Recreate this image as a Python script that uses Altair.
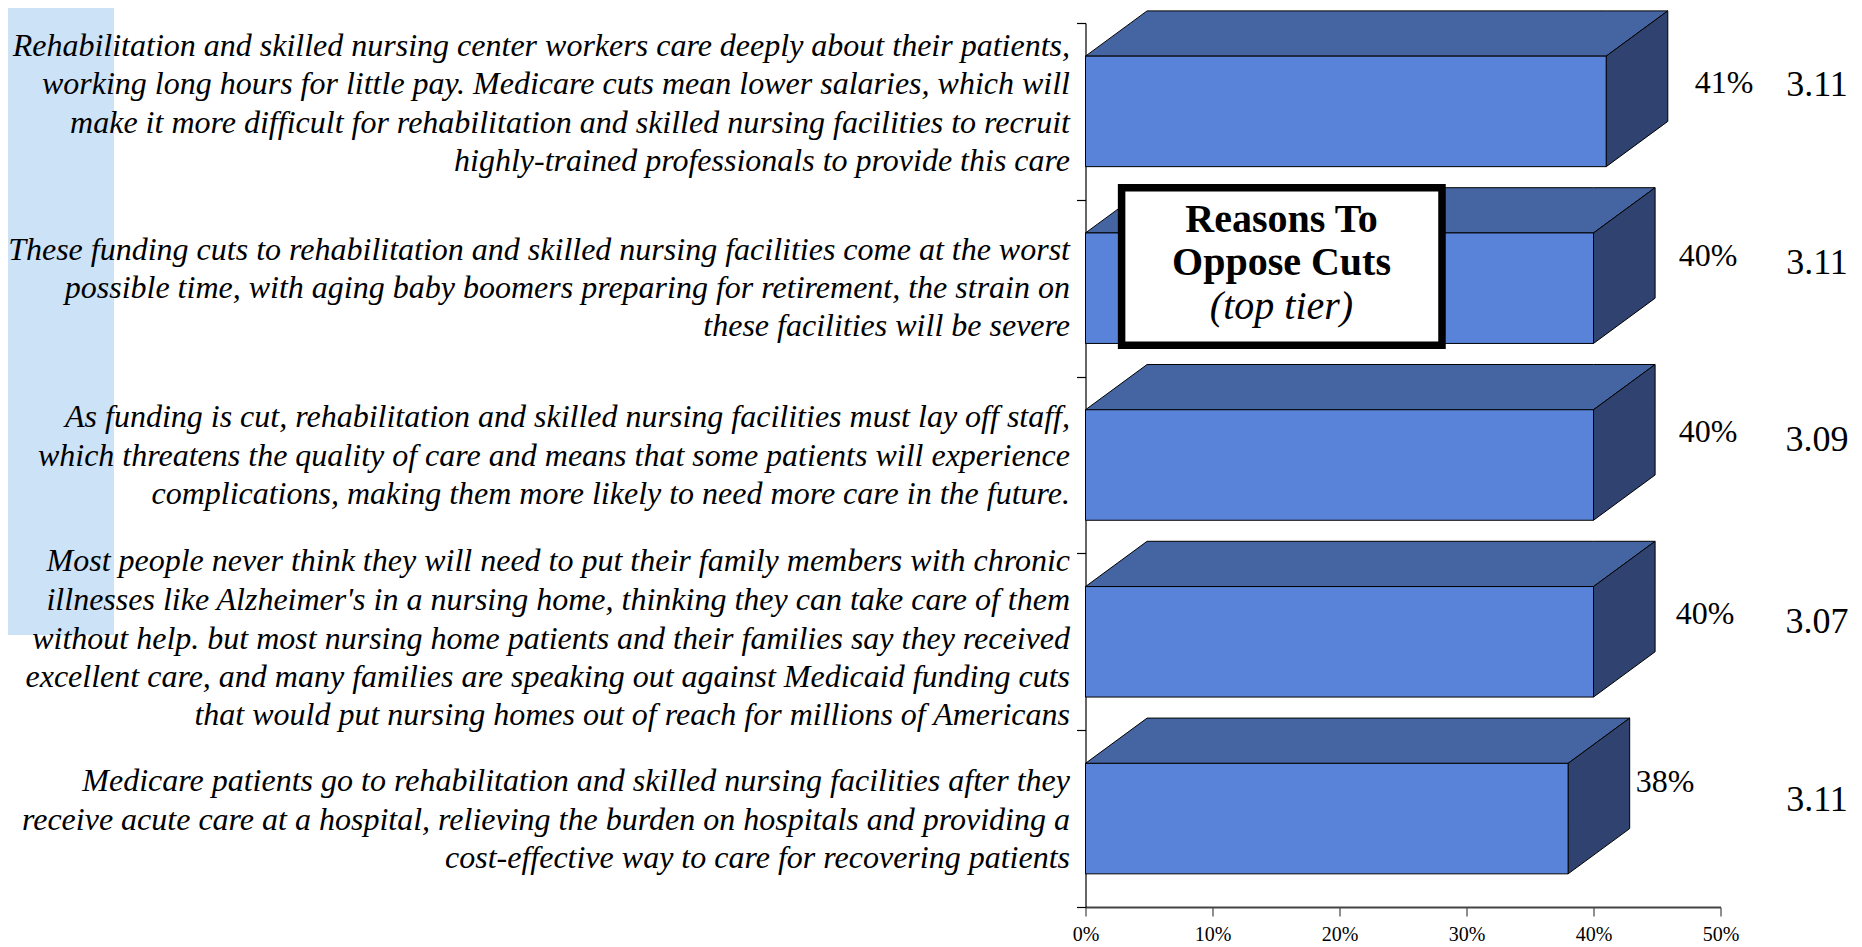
import altair as alt
import pandas as pd

values = [0.41, 0.40, 0.40, 0.40, 0.38]
means = ["3.11", "3.11", "3.09", "3.07", "3.11"]
pct_labels = ["41%", "40%", "40%", "40%", "38%"]
statements = [
    ["Rehabilitation and skilled nursing center workers care deeply about their patients,",
     "working long hours for little pay. Medicare cuts mean lower salaries, which will",
     "make it more difficult for rehabilitation and skilled nursing facilities to recruit",
     "highly-trained professionals to provide this care"],
    ["These funding cuts to rehabilitation and skilled nursing facilities come at the worst",
     "possible time, with aging baby boomers preparing for retirement, the strain on",
     "these facilities will be severe"],
    ["As funding is cut, rehabilitation and skilled nursing facilities must lay off staff,",
     "which threatens the quality of care and means that some patients will experience",
     "complications, making them more likely to need more care in the future."],
    ["Most people never think they will need to put their family members with chronic",
     "illnesses like Alzheimer's in a nursing home, thinking they can take care of them",
     "without help. but most nursing home patients and their families say they received",
     "excellent care, and many families are speaking out against Medicaid funding cuts",
     "that would put nursing homes out of reach for millions of Americans"],
    ["Medicare patients go to rehabilitation and skilled nursing facilities after they",
     "receive acute care at a hospital, relieving the burden on hospitals and providing a",
     "cost-effective way to care for recovering patients"],
]

# layout (page pixels)
PLOT_X, PLOT_Y = 1085.5, 23
PLOT_W = 635
line_y = [[46, 84, 123, 161], [250, 288, 326], [417, 456, 494],
          [561, 600, 639, 677, 715], [781, 820, 858]]
pct_pos = [(1724, 83), (1708, 256), (1708, 432), (1705, 614), (1665, 782)]
mean_pos = [(1817, 85), (1817, 263), (1817, 440), (1817, 622), (1817, 800)]
PAD, FRONT, DEPTH_X, DEPTH_Y = 0.1875, 0.625, 0.0485, 0.256

FONT = "Liberation Serif"
x_scale = alt.Scale(domain=[0, 0.5], nice=False, zero=False)
y_scale = alt.Scale(domain=[0, 5], reverse=True, nice=False, zero=False)

front_rows, top_rows, side_rows = [], [], []
for i, v in enumerate(values):
    t, b = i + PAD, i + PAD + FRONT
    front_rows.append({"x": 0, "x2": v, "y": t, "y2": b})
    for x, y, y2 in [(0, t, t), (DEPTH_X, t - DEPTH_Y, t), (v, t - DEPTH_Y, t),
                     (v + DEPTH_X, t - DEPTH_Y, t - DEPTH_Y)]:
        top_rows.append({"b": i, "x": x, "y": y, "y2": y2})
    for x, y, y2 in [(v, t, b), (v + DEPTH_X, t - DEPTH_Y, b - DEPTH_Y)]:
        side_rows.append({"b": i, "x": x, "y": y, "y2": y2})

text_rows = []
for block, ys in zip(statements, line_y):
    for s, y in zip(block, ys):
        text_rows.append({"t": s, "px": 1070 - PLOT_X, "py": y - PLOT_Y})
pct_rows = [{"t": t, "px": p[0] - PLOT_X, "py": p[1] - PLOT_Y} for t, p in zip(pct_labels, pct_pos)]
mean_rows = [{"t": t, "px": p[0] - PLOT_X, "py": p[1] - PLOT_Y} for t, p in zip(means, mean_pos)]
note_rows = [
    {"t": "Reasons To", "px": 1281.5 - PLOT_X, "py": 220 - PLOT_Y, "w": "bold"},
    {"t": "Oppose Cuts", "px": 1281.5 - PLOT_X, "py": 263 - PLOT_Y, "w": "bold"},
    {"t": "(top tier)", "px": 1281.5 - PLOT_X, "py": 307 - PLOT_Y, "w": "normal"},
]

X = alt.X("x:Q", scale=x_scale, axis=None)
Y = alt.Y("y:Q", scale=y_scale, axis=None)
Y2 = alt.Y2("y2:Q")

backdrop = alt.Chart(pd.DataFrame({"a": [0]})).mark_rect(color="#cce2f7").encode(
    x=alt.value(8 - PLOT_X), x2=alt.value(114 - PLOT_X),
    y=alt.value(8 - PLOT_Y), y2=alt.value(635 - PLOT_Y))

axes = alt.Chart(pd.DataFrame({"x": [0.0], "y": [0.0]})).mark_point(opacity=0).encode(
    x=alt.X("x:Q", scale=x_scale, title=None,
            axis=alt.Axis(values=[0, .1, .2, .3, .4, .5], format=".0%", grid=False,
                          domainColor="#444444", domainWidth=2, tickColor="#444444",
                          tickWidth=1.2, tickSize=9, labelFont=FONT, labelFontSize=20,
                          labelColor="black", labelPadding=8, labelFlush=False)),
    y=alt.Y("y:Q", scale=y_scale, title=None,
            axis=alt.Axis(values=[0, 1, 2, 3, 4, 5], labels=False, grid=False,
                          domainColor="black", domainWidth=1.2, tickColor="black",
                          tickWidth=1.2, tickSize=9)))

top = alt.Chart(pd.DataFrame(top_rows)).mark_area(
    fill="#4564a2", stroke="black", strokeWidth=1, opacity=1, interpolate="linear"
).encode(x=X, y=Y, y2=Y2, detail="b:N")
side = alt.Chart(pd.DataFrame(side_rows)).mark_area(
    fill="#2f4270", stroke="black", strokeWidth=1, opacity=1, interpolate="linear"
).encode(x=X, y=Y, y2=Y2, detail="b:N")
front = alt.Chart(pd.DataFrame(front_rows)).mark_rect(
    fill="#5983d8", stroke="black", strokeWidth=1
).encode(x=X, x2=alt.X2("x2:Q"), y=Y, y2=Y2)


def txt(rows, **kw):
    return alt.Chart(pd.DataFrame(rows)).mark_text(font=FONT, color="black", baseline="middle", **kw).encode(
        x=alt.X("px:Q", scale=None), y=alt.Y("py:Q", scale=None), text="t:N")


statements_layer = txt(text_rows, fontSize=32, fontStyle="italic", align="right")
pct_layer = txt(pct_rows, fontSize=32, align="center")
mean_layer = txt(mean_rows, fontSize=36, align="center")

box = alt.Chart(pd.DataFrame({"a": [0]})).mark_rect(fill="white", stroke="black", strokeWidth=7.5).encode(
    x=alt.value(1121.6 - PLOT_X), x2=alt.value(1442 - PLOT_X),
    y=alt.value(187.8 - PLOT_Y), y2=alt.value(345.2 - PLOT_Y))
note_bold = txt([r for r in note_rows if r["w"] == "bold"], fontSize=40, fontWeight="bold", align="center")
note_it = txt([r for r in note_rows if r["w"] != "bold"], fontSize=40, fontStyle="italic", align="center")

chart = alt.layer(
    backdrop, axes, top, side, front, statements_layer, pct_layer, mean_layer, box, note_bold, note_it
).resolve_scale(x="independent", y="independent").properties(
    width=PLOT_W, height=884,
    padding={"left": PLOT_X - 8, "top": PLOT_Y - 8, "right": 1854 - PLOT_X - PLOT_W, "bottom": 40},
    autosize=alt.AutoSizeParams(type="none"),
    background="white",
).configure_view(stroke=None)

chart.save("out.html", embed_options={"renderer": "svg", "actions": False})
